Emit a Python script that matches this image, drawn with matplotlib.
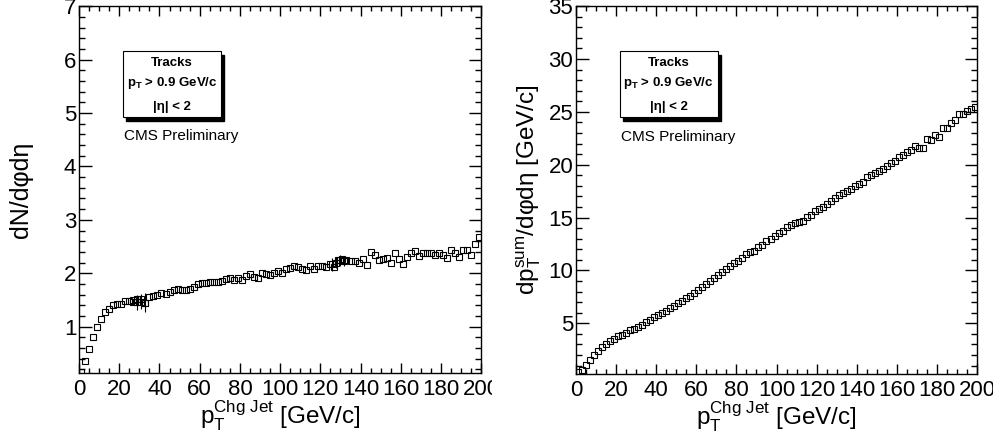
import matplotlib
matplotlib.use("Agg")
import matplotlib.pyplot as plt
from matplotlib.patches import Rectangle
from matplotlib.ticker import MultipleLocator

plt.rcParams["font.family"] = ["Liberation Sans", "DejaVu Sans"]
plt.rcParams["mathtext.fontset"] = "custom"
plt.rcParams["mathtext.rm"] = "Liberation Sans"
plt.rcParams["mathtext.it"] = "Liberation Sans:italic"
plt.rcParams["mathtext.bf"] = "Liberation Sans:bold"

# bin centres of the charged-jet pT histogram (2 GeV/c bins)
pt_bins = [1 + 2 * i for i in range(100)]

# dN/dphideta per bin
dn_vals = [
    0.16, 0.35, 0.58, 0.81, 1.00, 1.15, 1.27, 1.33, 1.40, 1.42,
    1.42, 1.48, 1.48, 1.50, 1.52, 1.52, 1.45, 1.56, 1.57, 1.60,
    1.63, 1.62, 1.65, 1.68, 1.70, 1.69, 1.69, 1.70, 1.75, 1.79,
    1.81, 1.82, 1.84, 1.84, 1.83, 1.85, 1.89, 1.91, 1.88, 1.92,
    1.88, 1.95, 1.98, 1.93, 1.91, 2.01, 1.99, 1.96, 2.01, 2.04,
    2.01, 2.08, 2.10, 2.14, 2.11, 2.07, 2.06, 2.14, 2.07, 2.14,
    2.14, 2.12, 2.18, 2.12, 2.25, 2.27, 2.25, 2.23, 2.23, 2.20,
    2.27, 2.15, 2.40, 2.34, 2.25, 2.26, 2.28, 2.19, 2.38, 2.27,
    2.18, 2.30, 2.38, 2.42, 2.32, 2.37, 2.37, 2.37, 2.34, 2.38,
    2.34, 2.29, 2.44, 2.37, 2.30, 2.43, 2.43, 2.34, 2.55, 2.68,
]

# overlapping points with visible error bars near 30 and 130 GeV/c
dn_extra_x = [27, 29, 31, 33, 126, 128, 130, 132]
dn_extra_y = [1.46, 1.46, 1.47, 1.45, 2.17, 2.20, 2.24, 2.22]
dn_extra_err = [0.06, 0.14, 0.14, 0.18, 0.12, 0.10, 0.10, 0.08]

# dpT^sum/dphideta per bin
dpt_vals = [
    0.36, 0.62, 1.05, 1.50, 1.96, 2.37, 2.75, 3.06, 3.32, 3.54,
    3.75, 3.92, 4.10, 4.32, 4.47, 4.63, 4.88, 5.10, 5.32, 5.56,
    5.78, 6.01, 6.20, 6.42, 6.67, 6.89, 7.15, 7.37, 7.59, 7.84,
    8.15, 8.46, 8.72, 8.97, 9.28, 9.56, 9.88, 10.18, 10.45, 10.70,
    10.93, 11.18, 11.55, 11.72, 11.88, 12.25, 12.44, 12.76, 12.98, 13.23,
    13.55, 13.77, 14.14, 14.34, 14.46, 14.56, 14.72, 15.09, 15.25, 15.65,
    15.82, 16.04, 16.29, 16.60, 16.83, 17.14, 17.33, 17.49, 17.71, 17.97,
    18.19, 18.41, 18.82, 19.07, 19.20, 19.38, 19.61, 19.92, 20.14, 20.39,
    20.71, 20.93, 21.18, 21.40, 21.75, 21.60, 21.62, 22.40, 22.30, 22.82,
    22.62, 23.45, 23.50, 23.95, 24.25, 24.78, 24.83, 25.05, 25.25, 25.45,
]

x_ticks = [0, 20, 40, 60, 80, 100, 120, 140, 160, 180, 200]
box_lines = ["Tracks", r"p$_\mathbf{T}$ > 0.9 GeV/c", "|η| < 2"]
xlabel = r"p$_\mathrm{T}^\mathrm{Chg\ Jet}$ [GeV/c]"


def style_axes(ax, ymin, ymax, ymaj, ymin_step):
    ax.set_xlim(0, 200)
    ax.set_ylim(ymin, ymax)
    ax.set_xticks(x_ticks)
    ax.xaxis.set_minor_locator(MultipleLocator(5))
    ax.yaxis.set_major_locator(MultipleLocator(ymaj))
    ax.yaxis.set_minor_locator(MultipleLocator(ymin_step))
    ax.tick_params(which="both", direction="in", top=True, right=True,
                   width=1.0, labelsize=16)
    ax.tick_params(axis="y", which="major", length=9, pad=2)
    ax.tick_params(axis="y", which="minor", length=4.5)
    ax.tick_params(axis="x", which="major", length=7.5, pad=4)
    ax.tick_params(axis="x", which="minor", length=3.8)
    for sp in ax.spines.values():
        sp.set_linewidth(1.0)
    ax.set_xlabel(xlabel, fontsize=17.5, labelpad=-1)


def add_label_box(ax):
    x0, y0, w, h = 0.109, 0.698, 0.244, 0.179
    ax.add_patch(Rectangle((x0 + 0.008, y0 - 0.010), w, h, transform=ax.transAxes,
                           facecolor="black", edgecolor="black", zorder=4))
    ax.add_patch(Rectangle((x0, y0), w, h, transform=ax.transAxes,
                           facecolor="white", edgecolor="black", lw=0.8, zorder=5))
    for yy, txt in zip([0.845, 0.790, 0.725], box_lines):
        ax.text(x0 + w / 2, yy, txt, transform=ax.transAxes, ha="center",
                va="center", fontsize=9.5, fontweight="bold", zorder=6)
    ax.text(x0 + 0.003, 0.645, "CMS Preliminary", transform=ax.transAxes,
            ha="left", va="center", fontsize=11, zorder=6)


fig = plt.figure(figsize=(9.93, 4.40), dpi=100)
ax1 = fig.add_axes([0.0796, 0.152, 0.405, 0.834])
ax2 = fig.add_axes([0.580, 0.150, 0.404, 0.836])

mk = dict(marker="s", ms=4.6, mfc="none", mec="black", mew=0.8, ls="none")

ax1.plot(pt_bins, dn_vals, **mk)
ax1.errorbar(dn_extra_x, dn_extra_y, yerr=dn_extra_err, fmt="s", ms=4.6,
             mfc="none", mec="black", mew=0.8, ecolor="black", elinewidth=0.8,
             capsize=0)
style_axes(ax1, 0.13, 7, 1, 0.2)
ax1.set_ylabel("dN/dφdη", fontsize=18, labelpad=22)
add_label_box(ax1)

ax2.plot(pt_bins, dpt_vals, **mk)
style_axes(ax2, 0.2, 35, 5, 1)
ax2.set_ylabel(r"dp$_\mathrm{T}^\mathrm{sum}$/dφdη [GeV/c]", fontsize=17.5,
               labelpad=4)
add_label_box(ax2)

# the left pad clips its last tick label
fig.patches.append(Rectangle((492 / 993, 0.0), 12 / 993, 0.14,
                             transform=fig.transFigure, facecolor="white",
                             edgecolor="none", zorder=10))

fig.savefig("out.png", dpi=100)
